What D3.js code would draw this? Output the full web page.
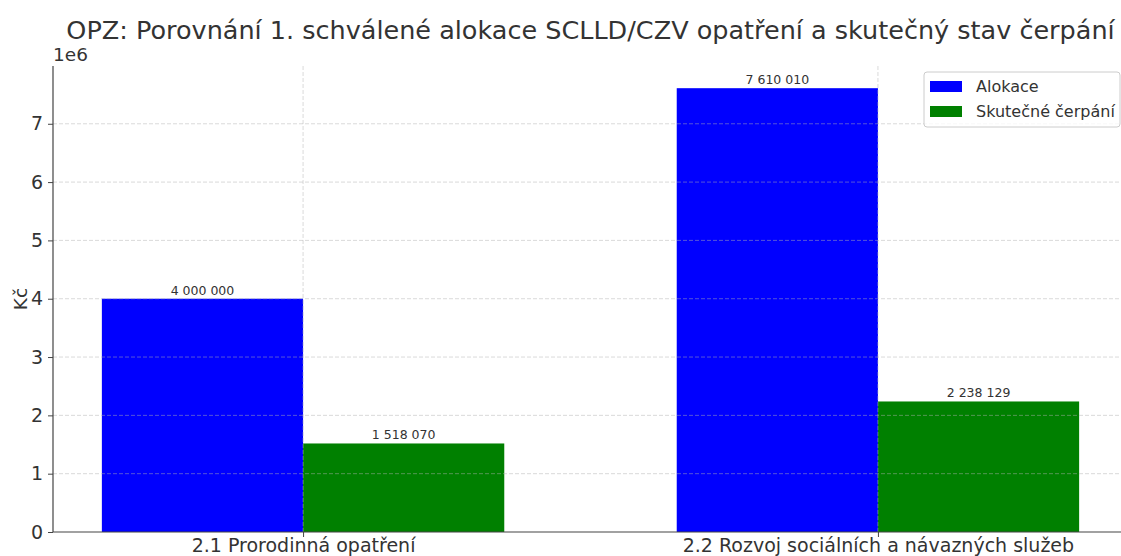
<!DOCTYPE html>
<html>
<head>
<meta charset="utf-8">
<script src="https://cdn.jsdelivr.net/npm/d3@7"></script>
<style>
  body { margin: 0; background: #fff; }
  text { font-family: "DejaVu Sans", sans-serif; fill: #333; }
</style>
</head>
<body>
<svg id="chart" width="1121" height="556"></svg>
<script>
var categories = ["2.1 Prorodinná opatření", "2.2 Rozvoj sociálních a návazných služeb"];
var series = ["Alokace", "Skutečné čerpání"];
var alokace = [4000000, 7610010];
var cerpani = [1518070, 2238129];
var yTicks = [0, 1, 2, 3, 4, 5, 6, 7];
var colors = ["#0000ff", "#008000"];

var mLeft = 53, mRight = 1128, mTop = 66, mBottom = 532;
var barW = 0.35;

var svg = d3.select("#chart");

// numeric x like matplotlib: category index, bars offset by width
var x = d3.scaleLinear().domain([-0.435, 1.435]).range([mLeft, mRight]);
var y = d3.scaleLinear().domain([0, 7610010 * 1.05]).range([mBottom, mTop]);

var fmt = function (v) { return d3.format(",")(v).replace(/,/g, " "); };

var data = [];
categories.forEach(function (c, i) {
    data.push({ s: 0, i: i, v: alokace[i] });
    data.push({ s: 1, i: i, v: cerpani[i] });
});

// bars
svg.selectAll("rect.bar")
    .data(data)
    .enter()
    .append("rect")
    .attr("class", "bar")
    .attr("x", function (d) { return x(d.i + (d.s - 1) * barW); })
    .attr("width", function (d) { return x(barW) - x(0); })
    .attr("y", function (d) { return y(d.v); })
    .attr("height", function (d) { return y(0) - y(d.v); })
    .attr("fill", function (d) { return colors[d.s]; });

// grid (drawn over bars, like the original)
var grid = svg.append("g").attr("stroke", "#b0b0b0").attr("stroke-opacity", 0.6)
    .attr("stroke-dasharray", "4,2").attr("stroke-width", 0.8);
grid.selectAll("line.h")
    .data(yTicks.slice(1))
    .enter()
    .append("line")
    .attr("x1", mLeft).attr("x2", mRight)
    .attr("y1", function (d) { return y(d * 1e6); })
    .attr("y2", function (d) { return y(d * 1e6); });
grid.selectAll("line.v")
    .data(categories)
    .enter()
    .append("line")
    .attr("x1", function (d, i) { return x(i); })
    .attr("x2", function (d, i) { return x(i); })
    .attr("y1", mTop).attr("y2", mBottom);

// value labels
svg.selectAll("text.val")
    .data(data)
    .enter()
    .append("text")
    .attr("class", "val")
    .attr("x", function (d) { return x(d.i + (d.s - 0.5) * barW); })
    .attr("y", function (d) { return y(d.v) - 4; })
    .attr("text-anchor", "middle")
    .style("font-size", "12.5px")
    .text(function (d) { return fmt(d.v); });

// axes
var yAxis = d3.axisLeft(y)
    .tickValues(yTicks.map(function (t) { return t * 1e6; }))
    .tickFormat(function (d) { return d / 1e6; })
    .tickSize(5).tickPadding(5);
var gy = svg.append("g").attr("transform", "translate(" + mLeft + ",0)").call(yAxis);
gy.selectAll("text").style("font-size", "19px").attr("fill", "#333");

var xAxis = d3.axisBottom(x)
    .tickValues([0, 1])
    .tickFormat(function (d) { return categories[d]; })
    .tickSize(5).tickPadding(2);
var gx = svg.append("g").attr("transform", "translate(0," + mBottom + ")").call(xAxis);
gx.selectAll("text").style("font-size", "19px").attr("fill", "#333");

[gx, gy].forEach(function (g) {
    g.select(".domain").attr("stroke", "#444").attr("stroke-width", 1.2);
    g.selectAll(".tick line").attr("stroke", "#444");
});
gx.select(".domain").attr("d", "M" + mLeft + ",0H" + mRight);
gy.select(".domain").attr("d", "M0," + mBottom + "V" + mTop);

// offset text and labels
svg.append("text")
    .attr("x", mLeft).attr("y", 61)
    .style("font-size", "18.5px")
    .text("1e6");

svg.append("text")
    .attr("transform", "translate(27," + ((mTop + mBottom) / 2) + ") rotate(-90)")
    .attr("text-anchor", "middle")
    .style("font-size", "18.5px")
    .text("Kč");

svg.append("text")
    .attr("x", (mLeft + mRight) / 2).attr("y", 39)
    .attr("text-anchor", "middle")
    .style("font-size", "25.5px")
    .text("OPZ: Porovnání 1. schválené alokace SCLLD/CZV opatření a skutečný stav čerpání");

// legend
var lg = svg.append("g").attr("transform", "translate(924,72)");
lg.append("rect")
    .attr("width", 196).attr("height", 55).attr("rx", 3)
    .attr("fill", "#fff").attr("fill-opacity", 0.8)
    .attr("stroke", "#ccc");
var items = lg.selectAll("g.item")
    .data(series)
    .enter()
    .append("g")
    .attr("transform", function (d, i) { return "translate(6," + (9 + i * 25) + ")"; });
items.append("rect")
    .attr("width", 32).attr("height", 11)
    .attr("fill", function (d, i) { return colors[i]; });
items.append("text")
    .attr("x", 46).attr("y", 11)
    .style("font-size", "16px")
    .text(function (d) { return d; });
</script>
</body>
</html>
